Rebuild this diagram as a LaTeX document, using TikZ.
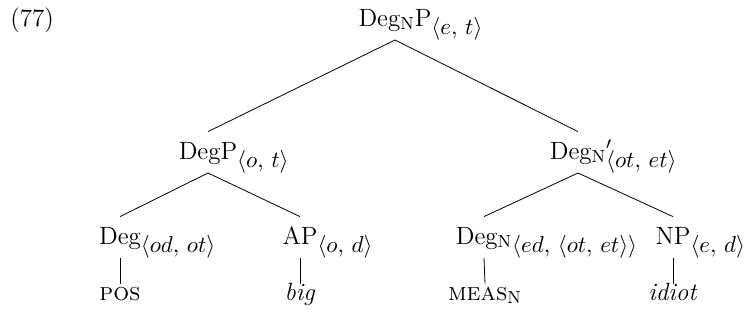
\RequirePackage{fix-cm}
\documentclass[tikz,border=0pt]{standalone}
\usepackage{amsmath}
\usepackage{tikz}
\newcommand{\tsub}[1]{\rlap{\raisebox{-4pt}{\fontsize{11.5}{14}\selectfont$#1$}}}

\begin{document}
\begin{tikzpicture}[x=0.5pt, y=-0.5pt,
    every node/.style={font=\fontsize{12.5}{15}\selectfont, inner sep=0pt},
    cat/.style={anchor=base, text height=13.5pt, text depth=6.8pt},
    leaf/.style={anchor=base, text height=8pt, text depth=0pt}]
    \useasboundingbox (0,0) rectangle (745,322);

    % Example number
    \node[anchor=base west] (num) at (10,26) {(77)};

    % Define nodes
    \node[cat] (DegNP) at (395,26) {Deg\textsubscript{N}P\tsub{\langle e,\, t\rangle}};
    \node[cat] (DegP) at (208,159) {DegP\tsub{\langle o,\, t\rangle}};
    \node[cat] (DegNbar) at (578,159) {Deg\textsubscript{N}\rlap{$'$}\tsub{\langle ot,\, et\rangle}};
    \node[cat] (Deg) at (120,244) {Deg\tsub{\langle od,\, ot\rangle}};
    \node[cat] (AP) at (300,244) {AP\tsub{\langle o,\, d\rangle}};
    \node[cat] (DegN) at (484,244) {Deg\textsubscript{N}\tsub{\langle ed,\, \langle ot,\, et\rangle\rangle}};
    \node[cat] (NP) at (673,244) {NP\tsub{\langle e,\, d\rangle}};
    \node[leaf] (pos) at (120,300) {\textsc{pos}};
    \node[leaf] (big) at (300,300) {\textit{big}};
    \node[leaf] (meas) at (485,300) {\textsc{meas}\textsubscript{N}};
    \node[leaf] (idiot) at (673,300) {\textit{idiot}};

    % Draw branches
    \draw (DegNP.south) -- (DegP.north);
    \draw (DegNP.south) -- (DegNbar.north);
    \draw (DegP.south) -- (Deg.north);
    \draw (DegP.south) -- (AP.north);
    \draw (DegNbar.south) -- (DegN.north);
    \draw (DegNbar.south) -- (NP.north);
    \draw (Deg.south) -- (pos.north);
    \draw (AP.south) -- (big.north);
    \draw (DegN.south) -- (meas.north);
    \draw (NP.south) -- (idiot.north);
\end{tikzpicture}
\end{document}
